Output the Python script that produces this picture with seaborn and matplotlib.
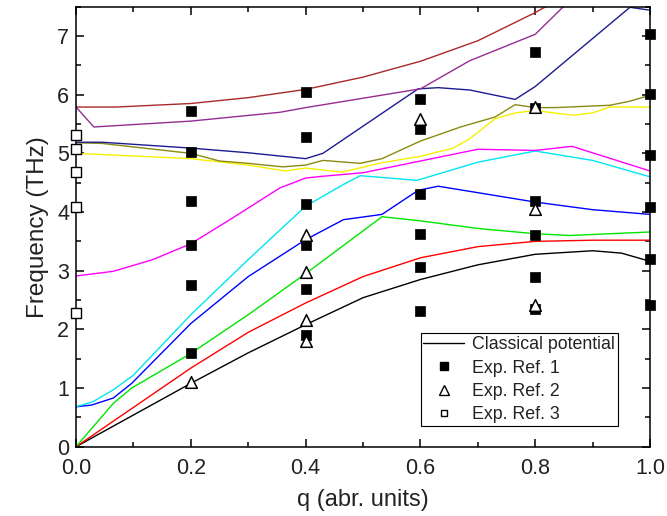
import numpy as np
import pandas as pd
import matplotlib
matplotlib.use("Agg")
import matplotlib.pyplot as plt
from matplotlib.lines import Line2D
from matplotlib.ticker import MultipleLocator, FormatStrFormatter
import seaborn as sns

# ---- phonon branches from the classical potential (q, frequency in THz) ----
q_black = [0.0, 0.1, 0.2, 0.3, 0.4, 0.5, 0.6, 0.7, 0.8, 0.9, 0.95, 1.0]
f_black = [0.0, 0.54, 1.08, 1.60, 2.08, 2.54, 2.85, 3.10, 3.28, 3.34, 3.30, 3.16]

q_red = [0.0, 0.1, 0.2, 0.3, 0.4, 0.5, 0.6, 0.7, 0.8, 0.9, 1.0]
f_red = [0.0, 0.67, 1.34, 1.95, 2.45, 2.90, 3.22, 3.41, 3.50, 3.52, 3.52]

q_green = [0.0, 0.065, 0.097, 0.2, 0.3, 0.4, 0.533, 0.6, 0.7, 0.8, 0.86, 1.0]
f_green = [0.0, 0.74, 1.00, 1.59, 2.25, 2.95, 3.92, 3.85, 3.72, 3.63, 3.60, 3.66]

q_blue = [0.0, 0.027, 0.065, 0.097, 0.2, 0.3, 0.4, 0.466, 0.533, 0.596, 0.631, 0.7, 0.8, 0.9, 1.0]
f_blue = [0.68, 0.71, 0.83, 1.08, 2.10, 2.90, 3.53, 3.87, 3.96, 4.37, 4.44, 4.33, 4.17, 4.04, 3.96]

q_cyan = [0.0, 0.03, 0.065, 0.1, 0.2, 0.3, 0.4, 0.466, 0.495, 0.594, 0.7, 0.8, 0.9, 1.0]
f_cyan = [0.68, 0.77, 0.97, 1.22, 2.25, 3.19, 4.10, 4.47, 4.62, 4.54, 4.85, 5.04, 4.88, 4.60]

q_magenta = [0.0, 0.065, 0.134, 0.2, 0.268, 0.355, 0.4, 0.43, 0.5, 0.6, 0.7, 0.8, 0.864, 1.0]
f_magenta = [2.91, 2.99, 3.19, 3.46, 3.87, 4.41, 4.58, 4.61, 4.67, 4.87, 5.07, 5.05, 5.12, 4.70]

q_yellow = [0.0, 0.2, 0.3, 0.364, 0.4, 0.463, 0.533, 0.6, 0.657, 0.686, 0.73, 0.765, 0.8, 0.866, 0.9, 0.93, 1.0]
f_yellow = [5.00, 4.91, 4.80, 4.70, 4.75, 4.68, 4.84, 4.95, 5.09, 5.25, 5.59, 5.69, 5.73, 5.65, 5.69, 5.79, 5.79]

q_olive = [0.0, 0.045, 0.2, 0.25, 0.3, 0.36, 0.4, 0.43, 0.495, 0.533, 0.6, 0.67, 0.73, 0.765, 0.8, 0.834, 0.93, 0.965, 1.0]
f_olive = [5.18, 5.17, 5.00, 4.87, 4.83, 4.77, 4.80, 4.88, 4.83, 4.91, 5.21, 5.45, 5.62, 5.83, 5.78, 5.78, 5.82, 5.89, 5.99]

q_navy = [0.0, 0.045, 0.2, 0.3, 0.4, 0.43, 0.596, 0.631, 0.686, 0.765, 0.8, 0.965, 1.0]
f_navy = [5.19, 5.19, 5.09, 5.01, 4.91, 5.00, 6.10, 6.12, 6.08, 5.92, 6.14, 7.49, 7.44]

q_purple = [0.0, 0.031, 0.2, 0.355, 0.4, 0.6, 0.686, 0.8, 0.85, 0.9]
f_purple = [5.79, 5.45, 5.55, 5.70, 5.78, 6.10, 6.58, 7.03, 7.51, 7.80]

q_wine = [0.0, 0.07, 0.2, 0.3, 0.4, 0.5, 0.6, 0.7, 0.8, 0.82, 0.9]
f_wine = [5.79, 5.79, 5.85, 5.95, 6.09, 6.30, 6.57, 6.92, 7.40, 7.51, 7.90]

# ---- experimental data ----
q_ref1 = [0.2] * 6 + [0.4] * 6 + [0.6] * 6 + [0.8] * 6 + [1.0] * 6
f_ref1 = [5.72, 5.03, 4.18, 3.44, 2.75, 1.59,
          6.04, 5.28, 4.14, 3.43, 2.68, 1.91,
          5.93, 5.41, 4.31, 3.63, 3.07, 2.32,
          6.73, 5.78, 4.18, 3.61, 2.89, 2.35,
          7.04, 6.02, 4.98, 4.09, 3.20, 2.42]

q_ref2 = [0.2, 0.4, 0.4, 0.4, 0.4, 0.6, 0.8, 0.8, 0.8]
f_ref2 = [1.11, 3.61, 2.97, 2.16, 1.81, 5.59, 5.79, 4.05, 2.42]

q_ref3 = [0.0, 0.0, 0.0, 0.0, 0.0]
f_ref3 = [5.32, 5.08, 4.68, 4.09, 2.28]

branches = [
    (q_black, f_black, "#000000"),
    (q_red, f_red, "#FF0000"),
    (q_green, f_green, "#00E600"),
    (q_blue, f_blue, "#0000FF"),
    (q_cyan, f_cyan, "#00E5F0"),
    (q_magenta, f_magenta, "#FF00FF"),
    (q_yellow, f_yellow, "#F5F000"),
    (q_olive, f_olive, "#8A8A10"),
    (q_navy, f_navy, "#1C1C90"),
    (q_purple, f_purple, "#952C95"),
    (q_wine, f_wine, "#A82A2A"),
]

sns.set_theme(style="ticks")
plt.rcParams["font.family"] = ["Liberation Sans", "DejaVu Sans"]
plt.rcParams["axes.linewidth"] = 1.1

fig = plt.figure(figsize=(6.67, 5.16), dpi=100)
ax = fig.add_axes([0.114, 0.1343, 0.8606, 0.8527])

for q, f, c in branches:
    df = pd.DataFrame({"q": q, "f": f})
    sns.lineplot(data=df, x="q", y="f", color=c, linewidth=1.0, ax=ax,
                 sort=False, estimator=None, legend=False)

df1 = pd.DataFrame({"q": q_ref1, "f": f_ref1})
df2 = pd.DataFrame({"q": q_ref2, "f": f_ref2})
df3 = pd.DataFrame({"q": q_ref3, "f": f_ref3})
sns.scatterplot(data=df1, x="q", y="f", marker="s", s=52, color="black",
                edgecolor="black", linewidth=0.5, ax=ax, clip_on=False, zorder=5, legend=False)
sns.scatterplot(data=df2, x="q", y="f", marker="^", s=70, facecolor="white",
                edgecolor="black", linewidth=1.1, ax=ax, clip_on=False, zorder=6, legend=False)
sns.scatterplot(data=df3, x="q", y="f", marker="s", s=42, facecolor="white",
                edgecolor="black", linewidth=1.0, ax=ax, clip_on=False, zorder=6, legend=False)

ax.set_xlim(0, 1.0)
ax.set_ylim(0, 7.5)
ax.xaxis.set_major_locator(MultipleLocator(0.2))
ax.xaxis.set_minor_locator(MultipleLocator(0.1))
ax.yaxis.set_major_locator(MultipleLocator(1))
ax.yaxis.set_minor_locator(MultipleLocator(0.5))
ax.xaxis.set_major_formatter(FormatStrFormatter("%.1f"))
ax.tick_params(which="both", direction="in", top=True, right=True, color="black",
               labelsize=15.5, labelcolor="#222222")
ax.tick_params(which="major", length=6, width=1.1)
ax.tick_params(axis="x", which="major", pad=8)
ax.tick_params(axis="y", which="major", pad=5)
ax.tick_params(which="minor", length=3.5, width=1.1)
for sp in ax.spines.values():
    sp.set_color("black")
    sp.set_visible(True)

ax.set_xlabel("q (abr. units)", fontsize=17, color="#222222", labelpad=7)
ax.set_ylabel("Frequency (THz)", fontsize=17.5, color="#222222", labelpad=6)

handles = [
    Line2D([], [], color="black", linewidth=1.0),
    Line2D([], [], color="black", marker="s", linestyle="none", markersize=5.5),
    Line2D([], [], color="black", marker="^", markerfacecolor="white", linestyle="none",
           markersize=6.5, markeredgewidth=1.0),
    Line2D([], [], color="black", marker="s", markerfacecolor="white", linestyle="none",
           markersize=5, markeredgewidth=1.0),
]
labels = ["Classical potential", "Exp. Ref. 1", "Exp. Ref. 2", "Exp. Ref. 3"]
leg = ax.legend(handles, labels, loc="lower right", bbox_to_anchor=(0.944, 0.047),
                borderaxespad=0, fontsize=12.8, frameon=True, fancybox=False,
                edgecolor="black", framealpha=1, handlelength=2.3, labelspacing=0.36,
                borderpad=0.15, handletextpad=0.45)
leg.get_frame().set_linewidth(0.8)
for t in leg.get_texts():
    t.set_color("#222222")

fig.savefig("out.png", dpi=100)
